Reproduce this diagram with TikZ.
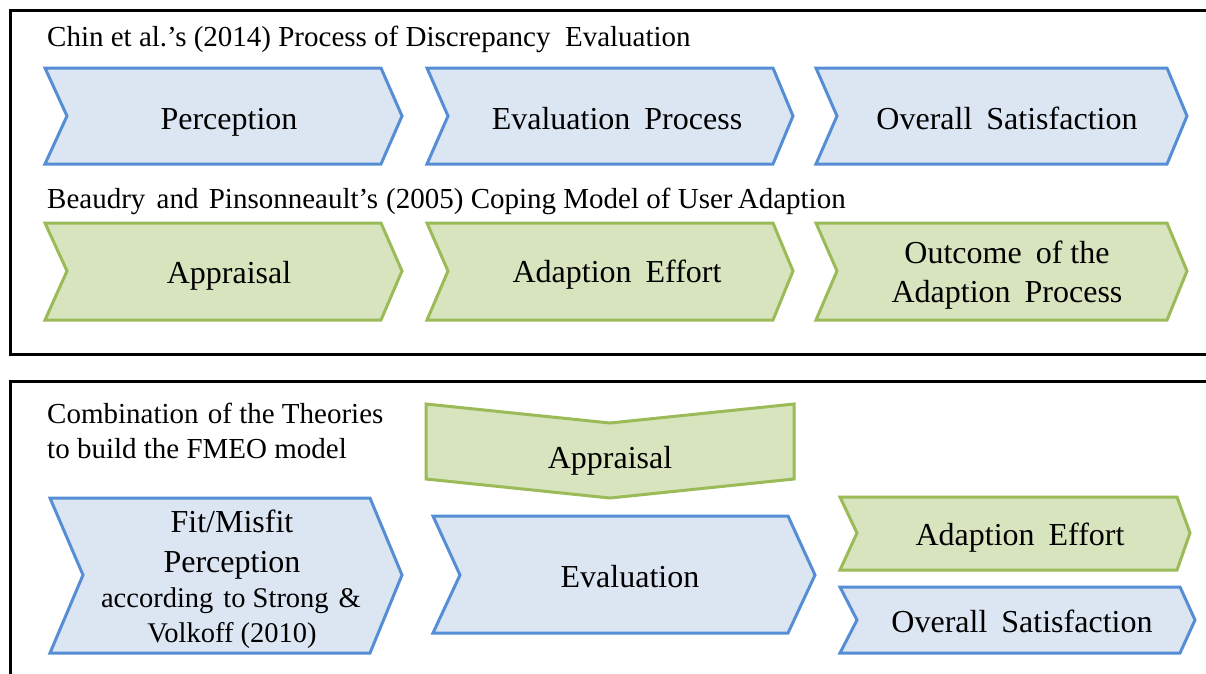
\documentclass[tikz,border=0pt]{standalone}
\usepackage{fontspec}
\setmainfont{Liberation Serif}
\definecolor{bfill}{RGB}{220,230,242}
\definecolor{bline}{RGB}{85,142,213}
\definecolor{gfill}{RGB}{215,228,189}
\definecolor{gline}{RGB}{155,187,89}
\tikzset{
  frame/.style={draw=black,line width=3pt},
  bchev/.style={draw=bline,fill=bfill,line width=3pt,line join=miter},
  gchev/.style={draw=gline,fill=gfill,line width=3pt,line join=miter},
  ctext/.style={anchor=base,inner sep=0pt,font=\fontsize{32}{38}\selectfont},
  stext/.style={anchor=base,inner sep=0pt,font=\fontsize{28.5}{34}\selectfont},
  htext/.style={anchor=base west,inner sep=0pt,font=\fontsize{29}{35}\selectfont},
}
\newcommand\wsp{\hspace{14pt}}
\begin{document}
\begin{tikzpicture}[x=1pt,y=-1pt]
\useasboundingbox (0,0) rectangle (1206,673);
\fill[white] (0,0) rectangle (1206,673);
% frames
\draw[frame] (10,10) rectangle (1225,354);
\draw[frame] (10,381) rectangle (1225,700);
% headings
\node[htext] (h1) at (47,46) {Chin et al.’s (2014) Process of Discrepancy\ \ Evaluation};
\node[htext] (h2) at (47,208) {Beaudry\hspace{4pt} and\hspace{3pt} Pinsonneault’s\hspace{1pt} (2005) Coping Model of User\hspace{-2pt} Adaption};
\node[htext] (h3a) at (47,423) {Combination \hspace{2pt}of the Theories};
\node[htext] (h3b) at (47,458) {to build the FMEO model};
% row 1 (blue)
\path[bchev] (45,68) -- (381,68) -- (402,116) -- (381,164) -- (45,164) -- (67,116) -- cycle;
\node[ctext] (perc) at (229,129) {Perception};
\path[bchev] (427,68) -- (773,68) -- (793,116) -- (773,164) -- (427,164) -- (448,116) -- cycle;
\node[ctext] (evproc) at (617,129) {Evaluation\wsp Process};
\path[bchev] (816,68) -- (1167,68) -- (1187,116) -- (1167,164) -- (816,164) -- (837,116) -- cycle;
\node[ctext] (oversat1) at (1007,129) {Overall\wsp Satisfaction};
% row 2 (green)
\path[gchev] (45,223) -- (381,223) -- (402,271) -- (381,320) -- (45,320) -- (67,271) -- cycle;
\node[ctext] (appr1) at (229,283) {Appraisal};
\path[gchev] (427,223) -- (773,223) -- (793,271) -- (773,320) -- (427,320) -- (448,271) -- cycle;
\node[ctext] (adeff1) at (617,282) {Adaption\wsp Effort};
\path[gchev] (816,223) -- (1167,223) -- (1187,271) -- (1167,320) -- (816,320) -- (837,271) -- cycle;
\node[ctext] (outc1) at (1007,263) {Outcome\wsp of the};
\node[ctext] (outc2) at (1007,302) {Adaption\wsp Process};
% bottom panel
\path[gchev] (426,404) -- (610,423) -- (794,404) -- (794,479) -- (610,498) -- (426,479) -- cycle;
\node[ctext] (appr2) at (610,468) {Appraisal};
\path[bchev] (50,498) -- (370,498) -- (402,575) -- (370,653) -- (50,653) -- (83,575) -- cycle;
\node[ctext] (fit1) at (232,532) {Fit/Misfit};
\node[ctext] (fit2) at (232,572) {Perception};
\node[stext] (acc1) at (231,607) {according\hspace{10pt}to Strong\hspace{10pt}\&};
\node[stext] (acc2) at (232,642) {Volkoff (2010)};
\path[bchev] (433,516) -- (788,516) -- (815,575) -- (788,633) -- (433,633) -- (460,575) -- cycle;
\node[ctext] (eval) at (630,587) {Evaluation};
\path[gchev] (840,497) -- (1177,497) -- (1190,533) -- (1177,570) -- (840,570) -- (857,533) -- cycle;
\node[ctext] (adeff2) at (1020,545) {Adaption\wsp Effort};
\path[bchev] (840,587) -- (1180,587) -- (1195,620) -- (1180,653) -- (840,653) -- (857,620) -- cycle;
\node[ctext] (oversat2) at (1022,632) {Overall\wsp Satisfaction};
\end{tikzpicture}
\end{document}
